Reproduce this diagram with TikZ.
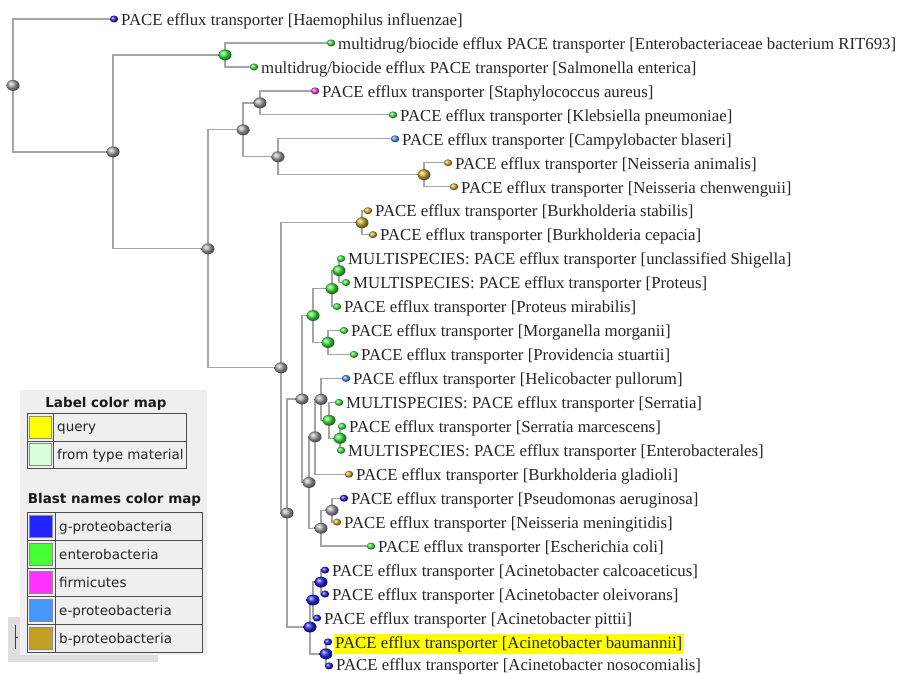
\documentclass[tikz,border=0pt]{standalone}
\usepackage{fontspec}
\setmainfont{Liberation Serif}
\newfontfamily\legfont{DejaVu Sans}
\usetikzlibrary{shapes.geometric,backgrounds}
\definecolor{cblue}{RGB}{35,35,235}
\definecolor{cgreen}{RGB}{60,230,60}
\definecolor{cmag}{RGB}{240,60,240}
\definecolor{clblue}{RGB}{70,150,240}
\definecolor{cgold}{RGB}{200,170,50}
\definecolor{cgrayball}{RGB}{165,165,165}
\definecolor{branchc}{RGB}{165,165,165}
\definecolor{panelc}{RGB}{239,239,239}
\definecolor{stripc}{RGB}{222,222,222}
\definecolor{leg1}{RGB}{255,255,0}
\definecolor{leg2}{RGB}{215,255,215}
\definecolor{leg3}{RGB}{35,35,255}
\definecolor{leg4}{RGB}{70,255,50}
\definecolor{leg5}{RGB}{255,50,255}
\definecolor{leg6}{RGB}{70,150,255}
\definecolor{leg7}{RGB}{195,160,35}
\tikzset{
  ball/.style={ellipse, minimum width=13pt, minimum height=11pt, inner sep=0pt, shade, ball color=#1},
  dot/.style={ellipse, minimum width=8.5pt, minimum height=7pt, inner sep=0pt, shade, ball color=#1},
  lab/.style={anchor=base west, inner xsep=1.5pt, inner ysep=0.3pt, font=\fontsize{16.8}{18}\selectfont, text=black!85},
  edge/.style={draw=branchc, line width=1.3pt},
  legtxt/.style={anchor=base west, inner sep=0pt, font=\legfont\fontsize{13.5}{15}\selectfont, text=black!85},
  legtitle/.style={anchor=base, inner sep=0pt, font=\legfont\bfseries\fontsize{13.5}{15}\selectfont, text=black!90},
  swatch/.style={draw=black!45, line width=0.8pt},
  tabline/.style={draw=black!70, line width=1pt}
}
\newcommand\tleaf[6][6.3]{%
  \node[dot=#5] (l#2) at (#3,#4) {};
  \node[lab] (t#2) at (#3+5.5,#4+#1) {#6};}
\newcommand\br[2]{\draw[edge] (#1.center) |- (#2.center);}
\begin{document}
\begin{tikzpicture}[x=1pt,y=-1pt]
\useasboundingbox (0,0) rectangle (900,674);
% legend
\fill[stripc] (8,617) rectangle (158,662);
\fill[panelc] (20,390) rectangle (207,655);
\draw[black!75, line width=1pt] (15,625) -- (15,649) (15,637) -- (18,637);
\node[legtitle] (lt1) at (106,407) {Label color map};
\draw[tabline] (27,413) rectangle (186,468) (27,441) -- (186,441) (53,413) -- (53,468);
\filldraw[swatch, fill=leg1] (29.5,416) rectangle (51,438.5);
\filldraw[swatch, fill=leg2] (29.5,443.5) rectangle (51,465.5);
\node[legtxt] (q1) at (57,431.5) {query};
\node[legtxt] (q2) at (57,459) {from type material};
\node[legtitle] (lt2) at (114.5,503) {Blast names color map};
\draw[tabline] (27,512) rectangle (202,652);
\foreach \yy in {540,568,596,624} \draw[tabline] (27,\yy) -- (202,\yy);
\draw[tabline] (55,512) -- (55,652);
\filldraw[swatch, fill=leg3] (29.5,515) rectangle (52.5,537);
\filldraw[swatch, fill=leg4] (29.5,543) rectangle (52.5,565);
\filldraw[swatch, fill=leg5] (29.5,571) rectangle (52.5,593);
\filldraw[swatch, fill=leg6] (29.5,599) rectangle (52.5,621);
\filldraw[swatch, fill=leg7] (29.5,627) rectangle (52.5,649);
\node[legtxt] (b1) at (59,531) {g-proteobacteria};
\node[legtxt] (b2) at (59,559) {enterobacteria};
\node[legtxt] (b3) at (59,587) {firmicutes};
\node[legtxt] (b4) at (59,615) {e-proteobacteria};
\node[legtxt] (b5) at (59,643) {b-proteobacteria};
% leaves
\tleaf{1}{114}{19.0}{cblue}{PACE efflux transporter [Haemophilus influenzae]}
\tleaf{2}{331}{42.96}{cgreen}{multidrug/biocide efflux PACE transporter [Enterobacteriaceae bacterium RIT693]}
\tleaf{3}{254}{66.92}{cgreen}{multidrug/biocide efflux PACE transporter [Salmonella enterica]}
\tleaf{4}{315}{90.88}{cmag}{PACE efflux transporter [Staphylococcus aureus]}
\tleaf{5}{393}{114.84}{cgreen}{PACE efflux transporter [Klebsiella pneumoniae]}
\tleaf{6}{395}{138.8}{clblue}{PACE efflux transporter [Campylobacter blaseri]}
\tleaf{7}{448}{162.76}{cgold}{PACE efflux transporter [Neisseria animalis]}
\tleaf{8}{454}{186.72}{cgold}{PACE efflux transporter [Neisseria chenwenguii]}
\tleaf{9}{368}{210.68}{cgold}{PACE efflux transporter [Burkholderia stabilis]}
\tleaf{10}{373}{234.64}{cgold}{PACE efflux transporter [Burkholderia cepacia]}
\tleaf{11}{341}{258.6}{cgreen}{MULTISPECIES: PACE efflux transporter [unclassified Shigella]}
\tleaf{12}{346}{282.56}{cgreen}{MULTISPECIES: PACE efflux transporter [Proteus]}
\tleaf{13}{337}{306.52}{cgreen}{PACE efflux transporter [Proteus mirabilis]}
\tleaf{14}{344}{330.48}{cgreen}{PACE efflux transporter [Morganella morganii]}
\tleaf{15}{354}{354.44}{cgreen}{PACE efflux transporter [Providencia stuartii]}
\tleaf{16}{346}{378.4}{clblue}{PACE efflux transporter [Helicobacter pullorum]}
\tleaf{17}{339}{402.36}{cgreen}{MULTISPECIES: PACE efflux transporter [Serratia]}
\tleaf{18}{342}{426.32}{cgreen}{PACE efflux transporter [Serratia marcescens]}
\tleaf{19}{341}{450.28}{cgreen}{MULTISPECIES: PACE efflux transporter [Enterobacterales]}
\tleaf{20}{349}{474.24}{cgold}{PACE efflux transporter [Burkholderia gladioli]}
\tleaf{21}{344}{498.2}{cblue}{PACE efflux transporter [Pseudomonas aeruginosa]}
\tleaf{22}{337}{522.16}{cgold}{PACE efflux transporter [Neisseria meningitidis]}
\tleaf{23}{371}{546.12}{cgreen}{PACE efflux transporter [Escherichia coli]}
\tleaf{24}{325}{570.08}{cblue}{PACE efflux transporter [Acinetobacter calcoaceticus]}
\tleaf{25}{325}{594.04}{cblue}{PACE efflux transporter [Acinetobacter oleivorans]}
\tleaf{26}{317}{618.0}{cblue}{PACE efflux transporter [Acinetobacter pittii]}
\node[dot=cblue] (l27) at (328,641.96) {};
\node[lab, fill=leg1, inner ysep=2.5pt] (t27) at (333.5,648.26) {PACE efflux transporter [Acinetobacter baumannii]};
\tleaf[4.8]{28}{329}{665.92}{cblue}{PACE efflux transporter [Acinetobacter nosocomialis]}
% internal nodes
\node[ball=cgrayball] (R) at (13,85.4) {};
\node[ball=cgrayball] (A) at (113,151.9) {};
\node[ball=cgreen] (E1) at (225,54.9) {};
\node[ball=cgrayball] (B) at (208,248.8) {};
\node[ball=cgrayball] (C) at (243,129.8) {};
\node[ball=cgrayball] (C1) at (260,102.9) {};
\node[ball=cgrayball] (C2) at (278,156.8) {};
\node[ball=cgold] (N) at (424,174.7) {};
\node[ball=cgrayball] (D) at (281,367.8) {};
\node[ball=cgold] (Bk) at (362,222.7) {};
\node[ball=cgrayball] (P) at (287,513.0) {};
\node[ball=cgrayball] (Q) at (302,399.0) {};
\node[ball=cgreen] (G) at (313,315.5) {};
\node[ball=cgreen] (G1) at (332,288.6) {};
\node[ball=cgreen] (G11) at (339,270.6) {};
\node[ball=cgreen] (G2) at (328,342.5) {};
\node[ball=cgrayball] (R2) at (309,482.5) {};
\node[ball=cgrayball] (S) at (315,436.8) {};
\node[ball=cgrayball] (V) at (321,399.4) {};
\node[ball=cgreen] (W) at (329,420.3) {};
\node[ball=cgreen] (X) at (340,438.3) {};
\node[ball=cgrayball] (T) at (321,528.2) {};
\node[ball=cgrayball] (U) at (332,510.2) {};
\node[ball=cblue] (Y) at (310,627.0) {};
\node[ball=cblue] (Y1) at (313,600.0) {};
\node[ball=cblue] (Y11) at (321,582.1) {};
\node[ball=cblue] (Z) at (326,653.9) {};
% branches
\begin{scope}[on background layer]
\fill[white] (0,0) rectangle (900,674);
\br{R}{l1} \br{R}{A}
\br{A}{E1} \br{A}{B}
\br{E1}{l2} \br{E1}{l3}
\br{B}{C} \br{B}{D}
\br{C}{C1} \br{C}{C2}
\br{C1}{l4} \br{C1}{l5}
\br{C2}{l6} \br{C2}{N}
\br{N}{l7} \br{N}{l8}
\br{D}{Bk} \br{D}{P}
\br{Bk}{l9} \br{Bk}{l10}
\br{P}{Q} \br{P}{Y}
\br{Q}{G} \br{Q}{R2}
\br{G}{G1} \br{G}{G2}
\br{G1}{G11} \br{G1}{l13}
\br{G11}{l11} \br{G11}{l12}
\br{G2}{l14} \br{G2}{l15}
\br{R2}{S} \br{R2}{T}
\br{S}{V} \br{S}{l20}
\br{V}{l16} \br{V}{W}
\br{W}{l17} \br{W}{X}
\br{X}{l18} \br{X}{l19}
\br{T}{U} \br{T}{l23}
\br{U}{l21} \br{U}{l22}
\br{Y}{Y1} \br{Y}{Z}
\br{Y1}{Y11} \br{Y1}{l26}
\br{Y11}{l24} \br{Y11}{l25}
\br{Z}{l27} \br{Z}{l28}
\end{scope}
\end{tikzpicture}
\end{document}
